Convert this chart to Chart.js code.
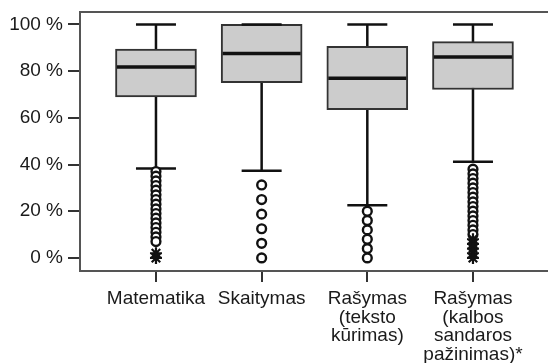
<!DOCTYPE html>
<html>
<head>
    <meta charset="utf-8">
    <title>Boxplot</title>
    <script src="https://cdn.jsdelivr.net/npm/chart.js"></script>
    <style>
        body { margin: 0; background: #fff; }
        #wrap { width: 548px; height: 363px; }
    </style>
</head>
<body>
    <div id="wrap"><canvas id="box"></canvas></div>
    <script>
        const categories = [
            'Matematika',
            'Skaitymas',
            ['Rašymas', '(teksto', 'kūrimas)'],
            ['Rašymas', '(kalbos', 'sandaros', 'pažinimas)*']
        ];
        const whiskerLow = [38.3, 37.3, 22.6, 41.2];
        const q1 = [68.9, 75.0, 63.5, 72.1];
        const median = [81.8, 87.5, 76.9, 86.0];
        const q3 = [89.4, 100, 90.6, 92.6];
        const whiskerHigh = [100, 100, 100, 100];
        const outliers = [
            [37, 35, 33, 31, 29, 27, 25, 23, 21, 19, 17, 15, 13, 11, 9, 7],
            [31.25, 25, 18.75, 12.5, 6.25, 0],
            [20, 16, 12, 8, 4, 0],
            [38, 36, 34, 32, 30, 28, 26, 24, 22, 20, 18, 16, 14, 12, 10]
        ];
        const extremes = [
            [2, 0],
            [],
            [],
            [8, 6, 4, 2, 0]
        ];
        const yTicks = [0, 20, 40, 60, 80, 100];

        const pos = categories.map((c, i) => i + 1);
        const ink = '#111';
        const fontFam = 'Arial, "Liberation Sans", sans-serif';

        const whiskerData = [];
        pos.forEach((x, i) => {
            whiskerData.push({x: x, y: whiskerLow[i]}, {x: x, y: whiskerHigh[i]}, {x: x, y: null});
        });
        const capData = [];
        pos.forEach((x, i) => {
            capData.push({x: x, y: whiskerLow[i]}, {x: x, y: whiskerHigh[i]});
        });
        const outData = [];
        outliers.forEach((arr, i) => arr.forEach(v => outData.push({x: pos[i], y: v})));
        const extData = [];
        extremes.forEach((arr, i) => arr.forEach(v => extData.push({x: pos[i], y: v})));

        const xMin = 0.281, xMax = 4.71;

        // drop the automatic edge padding Chart.js adds for labels
        function noPad(ax) {
            ax.paddingLeft = 0; ax.paddingRight = 0;
            ax.paddingTop = 0; ax.paddingBottom = 0;
        }

        new Chart(document.getElementById('box'), {
            type: 'bar',
            data: {
                datasets: [
                    {
                        type: 'line', data: whiskerData, borderColor: ink, borderWidth: 2.5,
                        pointRadius: 0, spanGaps: false, order: 6
                    },
                    {
                        type: 'bar', data: pos.map((x, i) => ({x: x, y: [q1[i], q3[i]]})),
                        backgroundColor: '#cccccc', borderColor: '#333', borderWidth: 2,
                        borderSkipped: false, barThickness: 81, order: 5
                    },
                    {
                        type: 'scatter', data: pos.map((x, i) => ({x: x, y: median[i]})),
                        pointStyle: 'line', pointRadius: 39, borderColor: ink, borderWidth: 3.5, order: 4
                    },
                    {
                        type: 'scatter', data: capData,
                        pointStyle: 'line', pointRadius: 20, borderColor: ink, borderWidth: 2.5, order: 3
                    },
                    {
                        type: 'scatter', data: outData, pointStyle: 'circle', pointRadius: 4.4,
                        backgroundColor: '#fff', borderColor: ink, borderWidth: 2.4, order: 2
                    },
                    {
                        type: 'scatter', data: extData, pointStyle: 'star', pointRadius: 6,
                        borderColor: ink, borderWidth: 2.2, order: 1
                    }
                ]
            },
            options: {
                responsive: true,
                maintainAspectRatio: false,
                animation: false,
                layout: { autoPadding: false, padding: { top: 12, right: 0, left: 0, bottom: 0 } },
                plugins: { legend: { display: false }, tooltip: { enabled: false } },
                scales: {
                    x: {
                        type: 'linear', min: xMin, max: xMax, offset: false,
                        afterBuildTicks: ax => { ax.ticks = pos.map(v => ({value: v})); },
                        afterFit: ax => { ax.height = 92; noPad(ax); },
                        grid: { display: true, z: 1, offset: false, drawOnChartArea: false, drawTicks: true, tickLength: 11, tickColor: '#333', tickWidth: 2, lineWidth: 2 },
                        border: { display: true, z: 2, color: '#555', width: 2 },
                        ticks: {
                            autoSkip: false, maxRotation: 0, padding: 8, color: '#1a1a1a',
                            font: { family: fontFam, size: 19, lineHeight: 0.97 },
                            callback: v => categories[v - 1]
                        }
                    },
                    x2: {
                        type: 'linear', position: 'top', min: xMin, max: xMax,
                        afterFit: ax => { ax.height = 0; noPad(ax); },
                        grid: { display: false },
                        border: { display: true, color: '#555', width: 2 },
                        ticks: { display: false }
                    },
                    y: {
                        min: -5.6, max: 105.3,
                        afterBuildTicks: ax => { ax.ticks = yTicks.map(v => ({value: v})); },
                        afterFit: ax => { ax.width = 80; noPad(ax); },
                        grid: { drawOnChartArea: false, drawTicks: true, tickLength: 12, tickColor: '#333', tickWidth: 2, lineWidth: 2 },
                        border: { display: true, color: '#555', width: 2 },
                        ticks: {
                            padding: 5, color: '#1a1a1a',
                            font: { family: fontFam, size: 19 },
                            callback: v => v + ' %'
                        }
                    }
                }
            }
        });
    </script>
</body>
</html>
